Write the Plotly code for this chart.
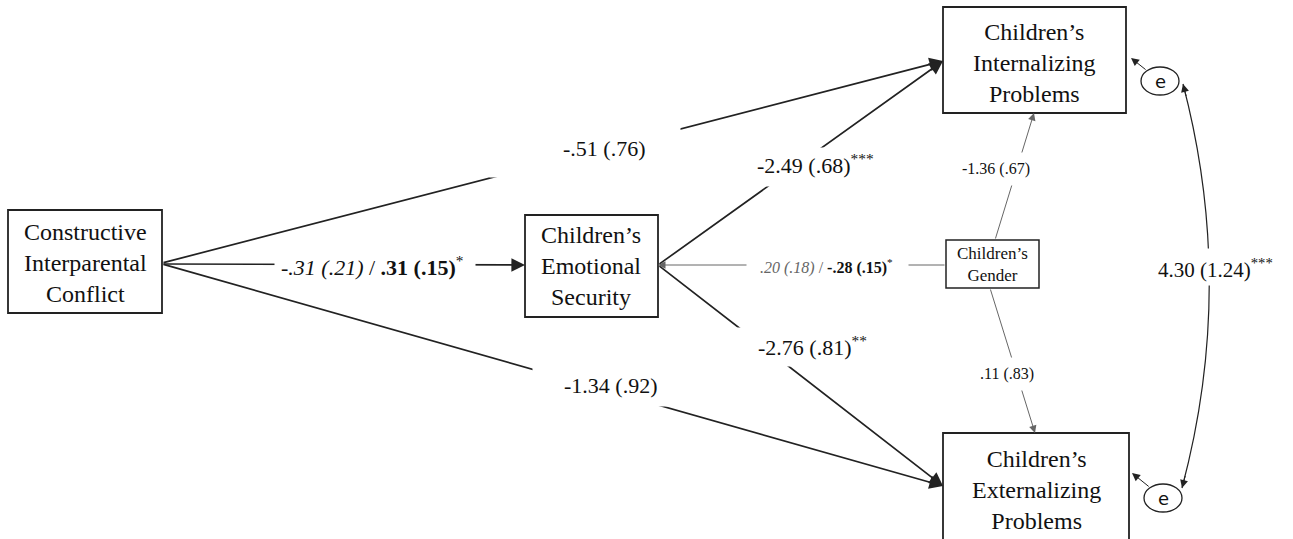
import math
import plotly.graph_objects as go

# ---------------- data ----------------
node_ids = ["CIC", "ES", "INT", "EXT", "GEN"]
node_text = ["Constructive<br>Interparental<br>Conflict",
             "Children’s<br>Emotional<br>Security",
             "Children’s<br>Internalizing<br>Problems",
             "Children’s<br>Externalizing<br>Problems",
             "Children’s<br>Gender"]

path_from = ["CIC", "CIC", "CIC", "ES", "ES", "GEN", "GEN", "GEN"]
path_to = ["INT", "ES", "EXT", "INT", "EXT", "ES", "INT", "EXT"]
est_a = [-0.51, -0.31, -1.34, -2.49, -2.76, 0.20, -1.36, 0.11]
se_a = [0.76, 0.21, 0.92, 0.68, 0.81, 0.18, 0.67, 0.83]
stars_a = ["", "", "", "***", "**", "", "", ""]
est_b = [None, 0.31, None, None, None, -0.28, None, None]
se_b = [None, 0.15, None, None, None, 0.15, None, None]
stars_b = [None, "*", None, None, None, "*", None, None]

cov_est = 4.30
cov_se = 1.24
cov_stars = "***"

# ---------------- layout constants ----------------
W, H = 1293, 539
FONT = "Liberation Serif"
boxes = {  # x0, y0, x1, y1 (pixels, y down)
    "CIC": (8, 210, 162, 313),
    "ES": (525, 215, 658, 317),
    "INT": (943, 7, 1126, 113),
    "EXT": (943, 433, 1129, 560),
    "GEN": (946, 240, 1039, 288),
}
box_font = {"CIC": 24, "ES": 24, "INT": 24, "EXT": 24, "GEN": 17}
text_center = {"CIC": (85, 263), "ES": (591, 266), "INT": (1034, 63),
               "EXT": (1036, 490), "GEN": (992, 264)}

# endpoints of each path (tail, tip)
ends = {
    ("CIC", "INT"): ((162, 263), (943, 61)),
    ("CIC", "ES"): ((162, 264), (525, 265)),
    ("CIC", "EXT"): ((162, 264), (943, 486)),
    ("ES", "INT"): ((658, 265), (943, 61)),
    ("ES", "EXT"): ((658, 265), (943, 486)),
    ("GEN", "ES"): ((946, 265), (658, 265)),
    ("GEN", "INT"): ((995, 240), (1034, 113)),
    ("GEN", "EXT"): ((990, 288), (1035, 433)),
}
label_bg = {  # cx, cy, w, h  (white gap behind the label)
    ("CIC", "INT"): (585, 152, 190, 50),
    ("CIC", "ES"): (375, 266, 200, 40),
    ("CIC", "EXT"): (608, 386, 150, 40),
    ("ES", "INT"): (815, 167, 210, 38),
    ("ES", "EXT"): (808, 347, 210, 38),
    ("GEN", "ES"): (827, 266, 161, 30),
    ("GEN", "INT"): (995, 169, 110, 32),
    ("GEN", "EXT"): (1005, 374, 110, 32),
}
label_pos = {
    ("CIC", "INT"): (604, 148),
    ("CIC", "ES"): (372, 266),
    ("CIC", "EXT"): (610, 385),
    ("ES", "INT"): (815, 164),
    ("ES", "EXT"): (812, 346),
    ("GEN", "ES"): (826, 266),
    ("GEN", "INT"): (996, 169),
    ("GEN", "EXT"): (1007, 374),
}
e_nodes = {"INT": (1160, 81), "EXT": (1163, 498)}
e_rx, e_ry = 19, 14


def fmt(v):
    s = f"{abs(v):.2f}"
    if s.startswith("0"):
        s = s[1:]
    return ("-" if v < 0 else "") + s


fig = go.Figure()
shapes = []
ann = []

# boxes
for nid in node_ids:
    x0, y0, x1, y1 = boxes[nid]
    shapes.append(dict(type="rect", xref="x", yref="y", x0=x0, y0=y0, x1=x1, y1=y1,
                       line=dict(color="#222", width=1.8 if nid != "GEN" else 1.5),
                       fillcolor="white", layer="below"))
for nid, txt in zip(node_ids, node_text):
    cx, cy = text_center[nid]
    ann.append(dict(x=cx, y=cy, xref="x", yref="y", text=txt, showarrow=False,
                    font=dict(family=FONT, size=box_font[nid], color="#111"),
                    align="center"))

# paths
for i, (a, b) in enumerate(zip(path_from, path_to)):
    (tx, ty), (hx, hy) = ends[(a, b)]
    thin = a == "GEN"
    ann.append(dict(x=hx, y=hy, ax=tx, ay=ty, xref="x", yref="y", axref="x", ayref="y",
                    text="", showarrow=True, arrowhead=2,
                    arrowsize=1.6 if not thin else 1.5,
                    arrowwidth=1.7 if not thin else 1.0,
                    arrowcolor="#222" if not thin else "#666", standoff=0))

# residual arrows
for key, tgt in (("INT", (1131, 58)), ("EXT", (1132, 473))):
    cx, cy = e_nodes[key]
    dx, dy = tgt[0] - cx, tgt[1] - cy
    t = 1 / math.sqrt((dx / e_rx) ** 2 + (dy / e_ry) ** 2)
    ann.append(dict(x=tgt[0], y=tgt[1], ax=cx + dx * t, ay=cy + dy * t, xref="x", yref="y",
                    axref="x", ayref="y", text="", showarrow=True, arrowhead=2,
                    arrowsize=1.6, arrowwidth=1.0, arrowcolor="#222", standoff=0))
    shapes.append(dict(type="circle", xref="x", yref="y", x0=cx - e_rx, x1=cx + e_rx,
                       y0=cy - e_ry, y1=cy + e_ry, line=dict(color="#222", width=1.3),
                       fillcolor="white"))
    ann.append(dict(x=cx, y=cy, xref="x", yref="y", text="e", showarrow=False,
                    font=dict(family="DejaVu Sans", size=18, color="#111")))

# covariance curve
p0 = (1183, 84)
p2 = (1182, 488)
p1 = (1236, 286)
shapes.append(dict(type="path", xref="x", yref="y",
                   path=f"M{p0[0]},{p0[1]} Q{p1[0]},{p1[1]} {p2[0]},{p2[1]}",
                   line=dict(color="#222", width=1.2)))
for tip, ctl in ((p0, p1), (p2, p1)):
    dx, dy = ctl[0] - tip[0], ctl[1] - tip[1]
    L = math.hypot(dx, dy)
    ann.append(dict(x=tip[0], y=tip[1], ax=tip[0] + dx / L * 14, ay=tip[1] + dy / L * 14,
                    xref="x", yref="y", axref="x", ayref="y", text="", showarrow=True,
                    arrowhead=2, arrowsize=1.6, arrowwidth=1.0, arrowcolor="#222", standoff=0))

# labels (white gap first, then text)
for i, (a, b) in enumerate(zip(path_from, path_to)):
    bx, by, w, h = label_bg[(a, b)]
    ann.append(dict(x=bx, y=by, xref="x", yref="y", text=" ", showarrow=False,
                    width=w, height=h, bgcolor="white", borderpad=0,
                    font=dict(family=FONT, size=10)))
for i, (a, b) in enumerate(zip(path_from, path_to)):
    cx, cy = label_pos[(a, b)]
    small = a == "GEN"
    if est_b[i] is None:
        txt = f"{fmt(est_a[i])} ({fmt(se_a[i])})"
        if stars_a[i]:
            txt += f"<sup>{stars_a[i]}</sup>"
    else:
        if small:
            txt = (f"<span style='color:#666'><i>{fmt(est_a[i])} ({fmt(se_a[i])})</i> / </span>"
                   f"<b>{fmt(est_b[i])} ({fmt(se_b[i])})</b><sup>{stars_b[i]}</sup>")
        else:
            txt = (f"<i>{fmt(est_a[i])} ({fmt(se_a[i])})</i> / "
                   f"<b>{fmt(est_b[i])} ({fmt(se_b[i])})</b><sup>{stars_b[i]}</sup>")
    ann.append(dict(x=cx, y=cy, xref="x", yref="y", text=txt, showarrow=False,
                    font=dict(family=FONT, size=16 if small else 22, color="#111")))

ann.append(dict(x=1218, y=267, xref="x", yref="y", text=" ", showarrow=False,
                width=146, height=36, bgcolor="white", borderpad=0,
                font=dict(family=FONT, size=10)))
ann.append(dict(x=1215, y=268, xref="x", yref="y",
                text=f"{fmt(cov_est)} ({fmt(cov_se)})<sup>{cov_stars}</sup>",
                showarrow=False, font=dict(family=FONT, size=21, color="#111")))

fig.update_layout(width=W, height=H, margin=dict(l=0, r=0, t=0, b=0),
                  paper_bgcolor="white", plot_bgcolor="white",
                  xaxis=dict(range=[0, W], visible=False, fixedrange=True),
                  yaxis=dict(range=[H, 0], visible=False, fixedrange=True),
                  shapes=shapes, annotations=ann, showlegend=False)
fig.write_html("out.html", config={"displayModeBar": False},
               post_script="document.body.style.margin='0';document.body.style.overflow='hidden';")
